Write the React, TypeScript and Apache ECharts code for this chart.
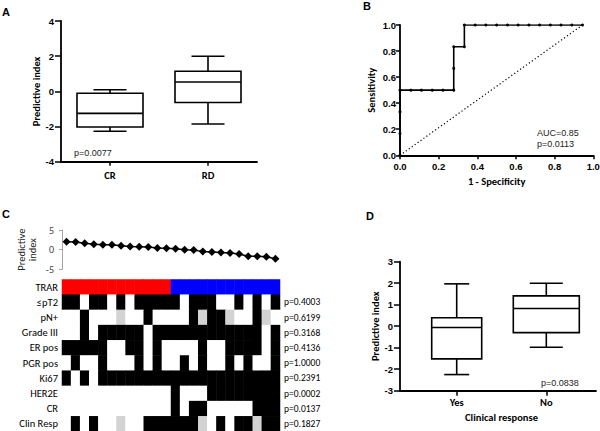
import React, { useEffect, useRef } from 'react';
import * as echarts from 'echarts';

// ---------- Panel A ----------
const boxCategoriesA = ['CR', 'RD'];
const boxA_CR = [-2.27, -2.03, -1.25, -0.11, 0.09];
const boxA_RD = [-1.86, -0.63, 0.53, 1.14, 2.0];
const pValueA = 'p=0.0077';

// ---------- Panel B ----------
const rocFpr = [0, 0, 0, 0, 0.056, 0.111, 0.167, 0.222, 0.278, 0.278, 0.278, 0.333, 0.333, 0.389, 0.444, 0.5, 0.556, 0.611, 0.667, 0.722, 0.778, 0.833, 0.889, 0.944];
const rocTpr = [0, 0.167, 0.333, 0.5, 0.5, 0.5, 0.5, 0.5, 0.5, 0.667, 0.833, 0.833, 1, 1, 1, 1, 1, 1, 1, 1, 1, 1, 1, 1];
const chanceX = [0, 0.944];
const chanceY = [0, 1];
const aucText = 'AUC=0.85';
const pValueB = 'p=0.0113';

// ---------- Panel C ----------
const patients = ['1', '2', '3', '4', '5', '6', '7', '8', '9', '10', '11', '12', '13', '14', '15', '16', '17', '18', '19', '20', '21', '22', '23', '24'];
const predictiveIndex = [2.0, 1.95, 1.6, 1.35, 1.25, 1.25, 1.0, 0.8, 0.75, 0.7, 0.45, 0.35, 0.2, 0.0, -0.1, -0.5, -0.6, -0.7, -0.85, -1.1, -1.7, -1.7, -1.8, -2.3];
const rowLabels = ['TRAR', '≤pT2', 'pN+', 'Grade III', 'ER pos', 'PGR pos', 'Ki67', 'HER2E', 'CR', 'Clin Resp'];
const rowPValues = ['', 'p=0.4003', 'p=0.6199', 'p=0.3168', 'p=0.4136', 'p=1.0000', 'p=0.2391', 'p=0.0002', 'p=0.0137', 'p=0.1827'];
// TRAR group: 3 = red, 4 = blue
const trarGroup = [3, 3, 3, 3, 3, 3, 3, 3, 3, 3, 3, 3, 4, 4, 4, 4, 4, 4, 4, 4, 4, 4, 4, 4];
// 0 = no, 1 = yes, 2 = missing
const rowPT2 = [1, 1, 0, 1, 1, 0, 1, 0, 1, 1, 1, 1, 1, 0, 1, 1, 1, 0, 0, 1, 0, 1, 0, 1];
const rowPN = [0, 0, 1, 0, 0, 0, 2, 0, 0, 1, 0, 0, 0, 0, 1, 2, 1, 1, 2, 0, 0, 1, 2, 0];
const rowGrade3 = [0, 0, 1, 0, 1, 1, 1, 1, 1, 0, 1, 1, 1, 1, 1, 1, 1, 1, 1, 1, 1, 1, 0, 1];
const rowER = [1, 1, 1, 1, 1, 0, 0, 1, 1, 0, 1, 0, 0, 0, 0, 1, 0, 0, 1, 1, 1, 1, 0, 1];
const rowPGR = [0, 1, 0, 0, 1, 0, 0, 0, 1, 0, 1, 0, 0, 1, 0, 1, 0, 0, 1, 0, 1, 0, 0, 1];
const rowKi67 = [1, 0, 1, 0, 1, 1, 1, 1, 1, 1, 1, 1, 1, 1, 1, 1, 1, 1, 1, 1, 1, 1, 1, 1];
const rowHER2E = [0, 0, 0, 0, 0, 0, 0, 0, 0, 0, 0, 0, 1, 0, 0, 0, 1, 1, 1, 1, 1, 1, 1, 1];
const rowCR = [0, 0, 0, 0, 0, 0, 0, 0, 0, 0, 0, 0, 1, 0, 1, 1, 0, 0, 0, 0, 0, 1, 1, 1];
const rowClinResp = [0, 1, 0, 1, 0, 0, 2, 0, 0, 1, 1, 1, 1, 1, 1, 2, 0, 1, 0, 1, 1, 2, 1, 1];

// ---------- Panel D ----------
const boxCategoriesD = ['Yes', 'No'];
const boxD_Yes = [-2.25, -1.52, -0.06, 0.39, 1.97];
const boxD_No = [-0.98, -0.3, 0.82, 1.41, 2.0];
const pValueD = 'p=0.0838';

// ---------- styles ----------
const CAL = 'Carlito, Calibri, Lato, sans-serif';
const ARIAL = '"Liberation Sans", Arial, Helvetica, sans-serif';
const BOX_WIDTHS_A = [66, 66];
const BOX_WIDTHS_D = [50, 66];

const axisLineBlack = { show: true, onZero: false, lineStyle: { color: '#000', width: 1.8 } };
const tickBlack = (len: number) => ({ show: true, length: len, lineStyle: { color: '#000', width: 1.5 } });
const tickLabelBold = { fontFamily: ARIAL, fontWeight: 'bold' as const, fontSize: 9.5, color: '#000' };
const nameBold = { fontFamily: CAL, fontWeight: 'bold' as const, fontSize: 10.5, color: '#000' };

function boxRenderer(widths: number[]) {
  return (params: any, api: any) => {
    const w = widths[params.dataIndex] || 60;
    const x = api.value(0);
    const pMin = api.coord([x, api.value(1)]);
    const pQ1 = api.coord([x, api.value(2)]);
    const pMed = api.coord([x, api.value(3)]);
    const pQ3 = api.coord([x, api.value(4)]);
    const pMax = api.coord([x, api.value(5)]);
    const cx = pMin[0];
    const style = { stroke: '#000', lineWidth: 1.6, fill: 'none' };
    return {
      type: 'group',
      children: [
        { type: 'line', shape: { x1: cx, y1: pMax[1], x2: cx, y2: pQ3[1] }, style },
        { type: 'line', shape: { x1: cx, y1: pQ1[1], x2: cx, y2: pMin[1] }, style },
        { type: 'line', shape: { x1: cx - w / 4, y1: pMax[1], x2: cx + w / 4, y2: pMax[1] }, style },
        { type: 'line', shape: { x1: cx - w / 4, y1: pMin[1], x2: cx + w / 4, y2: pMin[1] }, style },
        {
          type: 'rect',
          shape: { x: cx - w / 2, y: pQ3[1], width: w, height: pQ1[1] - pQ3[1] },
          style: { stroke: '#000', lineWidth: 1.6, fill: '#fff' },
        },
        { type: 'line', shape: { x1: cx - w / 2, y1: pMed[1], x2: cx + w / 2, y2: pMed[1] }, style },
      ],
    };
  };
}

function buildOption() {
  const heatRows = [trarGroup, rowPT2, rowPN, rowGrade3, rowER, rowPGR, rowKi67, rowHER2E, rowCR, rowClinResp];
  const heatData: number[][] = [];
  heatRows.forEach((row, r) => row.forEach((v, c) => heatData.push([c, r, v])));

  const letter = (text: string, x: number, y: number) => ({
    type: 'text', x, y,
    style: { text, fontFamily: ARIAL, fontWeight: 'bold', fontSize: 11, fill: '#000', align: 'left', verticalAlign: 'middle' },
  });
  const note = (text: string, x: number, y: number) => ({
    type: 'text', x, y,
    style: { text, fontFamily: ARIAL, fontSize: 9, fill: '#222', align: 'left', verticalAlign: 'middle' },
  });

  return {
    animation: false,
    backgroundColor: '#fff',
    grid: [
      { left: 61, top: 21, width: 196, height: 140.7, outerBoundsMode: 'none' },
      { left: 400, top: 25, width: 193.3, height: 130.3, outerBoundsMode: 'none' },
      { left: 62, top: 230, width: 218, height: 39.3, outerBoundsMode: 'none' },
      { left: 62, top: 279.5, width: 218, height: 152, outerBoundsMode: 'none' },
      { left: 400, top: 261.7, width: 196, height: 129, outerBoundsMode: 'none' },
      { left: 411.9, top: 261.7, width: 179.2, height: 129, outerBoundsMode: 'none' },
    ],
    xAxis: [
      {
        gridIndex: 0, type: 'category', data: boxCategoriesA,
        axisLine: axisLineBlack, axisTick: { ...tickBlack(4), alignWithLabel: true },
        axisLabel: { fontFamily: CAL, fontWeight: 'bold', fontSize: 10.5, color: '#000', margin: 8 },
      },
      {
        gridIndex: 1, type: 'value', min: 0, max: 1, interval: 0.2,
        axisLine: axisLineBlack, axisTick: tickBlack(4), splitLine: { show: false },
        axisLabel: { ...tickLabelBold, margin: 6, formatter: (v: number) => v.toFixed(1) },
        name: '1 - Specificity', nameLocation: 'middle', nameGap: 21, nameTextStyle: nameBold,
      },
      { gridIndex: 2, type: 'category', data: patients, show: false },
      { gridIndex: 3, type: 'category', data: patients, show: false },
      {
        gridIndex: 4, type: 'value', min: 0, max: 1,
        axisLine: axisLineBlack, axisTick: { show: false }, axisLabel: { show: false }, splitLine: { show: false },
      },
      {
        gridIndex: 5, type: 'category', data: boxCategoriesD,
        axisLine: { show: false, onZero: false }, axisTick: { ...tickBlack(5), alignWithLabel: true },
        axisLabel: { fontFamily: CAL, fontWeight: 'bold', fontSize: 10.5, color: '#000', margin: 6 },
        name: 'Clinical response', nameLocation: 'middle', nameGap: 21, nameTextStyle: nameBold,
      },
    ],
    yAxis: [
      {
        gridIndex: 0, type: 'value', min: -4, max: 4, interval: 2,
        axisLine: axisLineBlack, axisTick: tickBlack(6), splitLine: { show: false },
        axisLabel: { ...tickLabelBold, margin: 7 },
        name: 'Predictive index', nameLocation: 'middle', nameGap: 16, nameTextStyle: nameBold,
      },
      {
        gridIndex: 1, type: 'value', min: 0, max: 1, interval: 0.2,
        axisLine: axisLineBlack, axisTick: tickBlack(4), splitLine: { show: false },
        axisLabel: { ...tickLabelBold, margin: 4, formatter: (v: number) => v.toFixed(1) },
        name: 'Sensitivity', nameLocation: 'middle', nameGap: 23, nameTextStyle: nameBold,
      },
      {
        gridIndex: 2, type: 'value', min: -5, max: 5, interval: 5,
        axisLine: { show: true, lineStyle: { color: '#a6a6a6', width: 1 } },
        axisTick: { show: true, length: 3, lineStyle: { color: '#a6a6a6', width: 1 } },
        splitLine: { show: false },
        axisLabel: { fontFamily: CAL, fontSize: 10, color: '#404040', margin: 8 },
        name: 'Predictive\nindex', nameLocation: 'middle', nameGap: 24,
        nameTextStyle: { fontFamily: CAL, fontSize: 10.5, lineHeight: 11, color: '#222222' },
      },
      {
        gridIndex: 3, type: 'category', data: rowLabels, inverse: true,
        axisLine: { show: false }, axisTick: { show: false },
        axisLabel: { fontFamily: CAL, fontSize: 10.5, color: '#000000', margin: 4, interval: 0 },
      },
      {
        gridIndex: 3, type: 'category', data: rowPValues, inverse: true, position: 'right',
        axisLine: { show: false }, axisTick: { show: false },
        axisLabel: { fontFamily: CAL, fontSize: 9.5, color: '#000000', margin: 4, interval: 0 },
      },
      {
        gridIndex: 4, type: 'value', min: -3, max: 3, interval: 1,
        axisLine: axisLineBlack, axisTick: tickBlack(6), splitLine: { show: false },
        axisLabel: { ...tickLabelBold, margin: 7 },
        name: 'Predictive index', nameLocation: 'middle', nameGap: 15, nameTextStyle: nameBold,
      },
      { gridIndex: 5, type: 'value', min: -3, max: 3, show: false },
    ],
    visualMap: [
      {
        type: 'piecewise', show: false, seriesIndex: 4, dimension: 2,
        pieces: [
          { value: 0, color: '#ffffff' },
          { value: 1, color: '#000000' },
          { value: 2, color: '#d3d3d3' },
          { value: 3, color: '#ff0000' },
          { value: 4, color: '#0000ff' },
        ],
      },
    ],
    series: [
      {
        type: 'custom', xAxisIndex: 0, yAxisIndex: 0,
        renderItem: boxRenderer(BOX_WIDTHS_A),
        encode: { x: 0, y: [1, 2, 3, 4, 5] },
        data: [[0, ...boxA_CR], [1, ...boxA_RD]],
      },
      {
        type: 'line', xAxisIndex: 1, yAxisIndex: 1,
        data: rocFpr.map((x, i) => [x, rocTpr[i]]),
        symbol: 'circle', symbolSize: 3, showAllSymbol: true,
        lineStyle: { color: '#000', width: 1.6 }, itemStyle: { color: '#000' },
      },
      {
        type: 'line', xAxisIndex: 1, yAxisIndex: 1,
        data: chanceX.map((x, i) => [x, chanceY[i]]), symbol: 'none',
        lineStyle: { color: '#000', width: 1.2, type: [1.2, 2.4] },
      },
      {
        type: 'line', xAxisIndex: 2, yAxisIndex: 2, data: predictiveIndex,
        symbol: 'diamond', symbolSize: 8, showAllSymbol: true,
        lineStyle: { color: '#000', width: 1.5 }, itemStyle: { color: '#000' },
      },
      {
        type: 'heatmap', xAxisIndex: 3, yAxisIndex: 3, data: heatData,
        itemStyle: { borderWidth: 0 }, emphasis: { disabled: true },
      },
      {
        type: 'custom', xAxisIndex: 5, yAxisIndex: 6,
        renderItem: boxRenderer(BOX_WIDTHS_D),
        encode: { x: 0, y: [1, 2, 3, 4, 5] },
        data: [[0, ...boxD_Yes], [1, ...boxD_No]],
      },
    ],
    graphic: [
      letter('A', 2, 12),
      letter('B', 363, 5.5),
      letter('C', 2, 214),
      letter('D', 366, 215.5),
      note(pValueA, 74, 153),
      note(aucText, 537, 132.7),
      note(pValueB, 537, 144),
      note(pValueD, 541, 383),
    ],
  };
}

export default function App() {
  const ref = useRef<HTMLDivElement>(null);
  useEffect(() => {
    if (!ref.current) return;
    const chart = echarts.init(ref.current, null, { renderer: 'svg' });
    chart.setOption(buildOption() as any);
    return () => chart.dispose();
  }, []);
  return (
    <div
      ref={ref}
      style={{ position: 'fixed', left: 0, top: 0, width: 600, height: 431, background: '#fff' }}
    />
  );
}
